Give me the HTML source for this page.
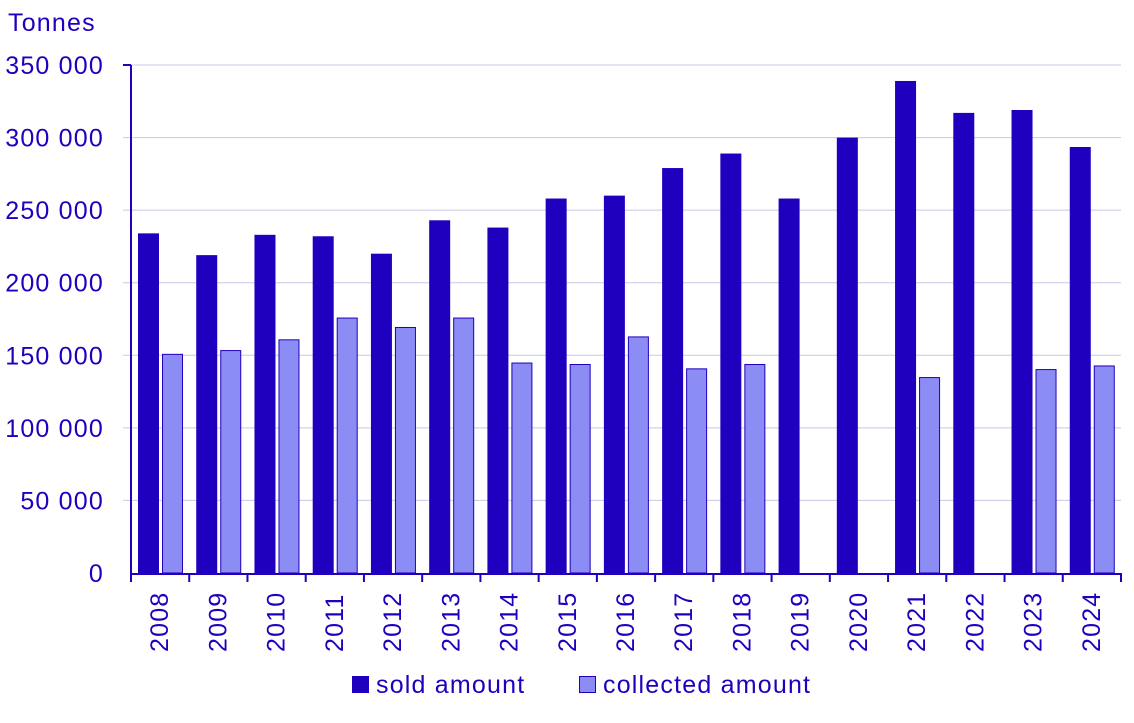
<!DOCTYPE html>
<html><head><meta charset="utf-8"><style>
html,body{margin:0;padding:0;background:#fff;}
svg text{font-family:"Liberation Sans",sans-serif;fill:#1e00be;letter-spacing:1.2px;}
</style></head><body>
<svg id="c" width="1134" height="718" xmlns="http://www.w3.org/2000/svg"></svg>
<script>
const s=document.getElementById('c');let h='';
const y0=573,k=508/350000;
h+='<text x="8" y="31" font-size="25">Tonnes</text>';
for(let i=0;i<=7;i++){const y=y0-i*50000*k;
 if(i>0)h+=`<line x1="123" x2="1121" y1="${y}" y2="${y}" stroke="#c8c8e6" stroke-width="1"/>`;
 const lab=i==0?'0':(i*50)+' 000';
 h+=`<text x="104" y="${y+9}" font-size="25" text-anchor="end">${lab}</text>`;}
h+=`<line x1="131" x2="131" y1="65" y2="582" stroke="#1e00be" stroke-width="2"/>`;
h+=`<line x1="123" x2="131" y1="65" y2="65" stroke="#1e00be" stroke-width="2"/>`;
const sold=[234,219,233,232,220,243,238,258,260,279,289,258,300,339,317,319,293.5];
const col=[151,153.6,161,176,169.5,176,145,144,163,141,144,0,0,135,0,140.5,143];
const w=990/17;
for(let i=0;i<17;i++){const x=131+i*w;
 const a=sold[i]*1000*k,b=col[i]*1000*k;
 h+=`<rect x="${x+7}" y="${y0-a}" width="21" height="${a}" fill="#1e00be"/>`;
 if(b>0)h+=`<rect x="${x+31.5}" y="${y0-b+0.5}" width="20" height="${b-0.5}" fill="#8c8cf5" stroke="#1e00be" stroke-width="1"/>`;
 h+=`<line x1="${x+w}" x2="${x+w}" y1="573" y2="582" stroke="#1e00be" stroke-width="2"/>`;
 const cx=x+w/2+8;
 h+=`<text transform="translate(${cx},652) rotate(-90)" font-size="25">${2008+i}</text>`;}
h+=`<line x1="131" x2="1121" y1="574" y2="574" stroke="#1e00be" stroke-width="2"/>`;
h+=`<rect x="352" y="676" width="17" height="17" fill="#1e00be"/>`;
h+=`<text x="376" y="693" font-size="25">sold amount</text>`;
h+=`<rect x="579.5" y="676.5" width="16" height="16" fill="#8c8cf5" stroke="#1e00be"/>`;
h+=`<text x="603" y="693" font-size="25">collected amount</text>`;
s.innerHTML=h;
</script>
</body></html>
